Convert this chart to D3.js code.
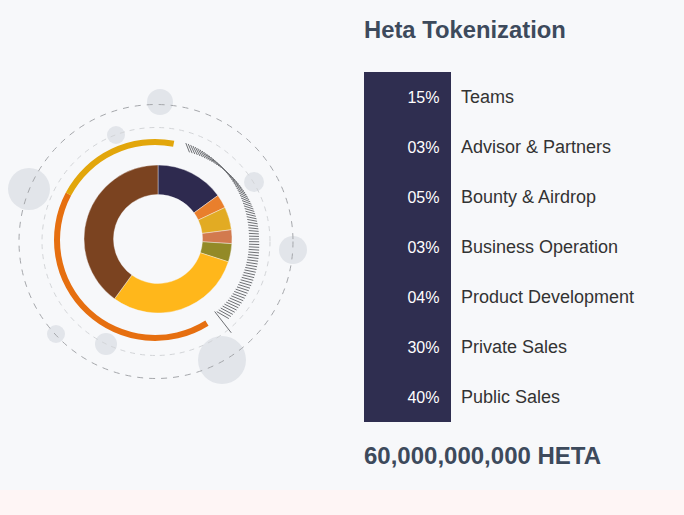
<!DOCTYPE html>
<html>
<head>
<meta charset="utf-8">
<script src="https://cdn.jsdelivr.net/npm/d3@7/dist/d3.min.js"></script>
<style>
  html, body { margin: 0; padding: 0; background: #f7f8fa; }
  svg { display: block; }
</style>
</head>
<body>
<svg id="chart" width="684" height="515"></svg>
<script>
const title = "Heta Tokenization";
const totalSupply = "60,000,000,000 HETA";
const categories = ["Teams", "Advisor & Partners", "Bounty & Airdrop", "Business Operation", "Product Development", "Private Sales", "Public Sales"];
const values = [15, 3, 5, 3, 4, 30, 40];
const colors = ["#2e2a4f", "#e97f2c", "#e2ab23", "#d27a4e", "#938a27", "#ffb71b", "#7b4320"];

const svg = d3.select("#chart");
const W = 684, H = 515;

// background
svg.append("rect").attr("width", W).attr("height", H).attr("fill", "#f7f8fa");
svg.append("rect").attr("x", 0).attr("y", 490).attr("width", W).attr("height", 25).attr("fill", "#fef5f5");

const cx = 158, cy = 239;
const deg = Math.PI / 180;

// decorative bubbles
const bubbles = [[160,102,13],[116,135,9],[29,189,21],[254,182,10],[293,250,14],[56,334,9],[106,344,11],[222,360,24]];
svg.append("g").selectAll("circle").data(bubbles).join("circle")
  .attr("cx", d => d[0]).attr("cy", d => d[1]).attr("r", d => d[2])
  .attr("fill", "#e2e5ea");

// dashed circles
svg.append("circle").attr("cx", 156).attr("cy", 241.5).attr("r", 137)
  .attr("fill", "none").attr("stroke", "#a5a7ab").attr("stroke-width", 1).attr("stroke-dasharray", "6,6");
svg.append("circle").attr("cx", 156).attr("cy", 241.5).attr("r", 114)
  .attr("fill", "none").attr("stroke", "#d3d5d8").attr("stroke-width", 1).attr("stroke-dasharray", "5,5");

// outer decorative arcs
const ring = d3.arc().innerRadius(95).outerRadius(101);
const ringG = svg.append("g").attr("transform", `translate(155,240)`);
ringG.append("path").attr("d", ring({startAngle: 148 * deg, endAngle: 298 * deg})).attr("fill", "#e66f10");
ringG.append("path").attr("d", ring({startAngle: -62 * deg, endAngle: 11 * deg})).attr("fill", "#e2a60b");

// ticks
const tickG = svg.append("g").attr("transform", `translate(${cx},${cy})`);
const tickAngles = d3.range(18, 141, 1.6);
tickG.selectAll("line").data(tickAngles).join("line")
  .each(function(a) {
    const t = a * deg;
    const rr = 96 + (a > 90 ? (a - 90) * 0.08 : 0);
    const px = rr * Math.sin(t), py = -rr * Math.cos(t);
    const dirDeg = a < 90 ? 90 + (90 - a) * 0.95 : 90 + (a - 90) * 0.6;
    const dr = dirDeg * deg;
    const dx = Math.sin(dr), dy = -Math.cos(dr);
    const len = a < 90 ? 5 : 5 + (a - 90) * 0.04;
    d3.select(this)
      .attr("x1", px - len * dx).attr("y1", py - len * dy)
      .attr("x2", px + len * dx).attr("y2", py + len * dy);
  })
  .attr("stroke", "#6e7074").attr("stroke-width", 1);
{
  const t = 142 * deg;
  tickG.append("line")
    .attr("x1", 92 * Math.sin(t)).attr("y1", -92 * Math.cos(t))
    .attr("x2", 119 * Math.sin(t)).attr("y2", -119 * Math.cos(t))
    .attr("stroke", "#6e7074").attr("stroke-width", 1);
}

// donut
const pie = d3.pie().sort(null).value(d => d);
const arc = d3.arc().innerRadius(44.5).outerRadius(74);
const donut = svg.append("g").attr("transform", `translate(${cx},${cy})`);
donut.selectAll("path").data(pie(values)).join("path")
  .attr("d", arc)
  .attr("fill", (d, i) => colors[i])
  .attr("stroke", "#f7f8fa").attr("stroke-width", 0.4);

// right panel
const font = "'Liberation Sans', Arial, Helvetica, sans-serif";
svg.append("text").attr("x", 364).attr("y", 37.5)
  .attr("font-family", font).attr("font-weight", "bold").attr("font-size", 23.8)
  .attr("fill", "#3d4a5c").text(title);

const y = d3.scaleBand().domain(categories).range([72, 422]);
svg.append("rect").attr("x", 364).attr("y", 72).attr("width", 87).attr("height", 350).attr("fill", "#2f2e50");

const fmt = d3.format("02d");
const rows = svg.append("g").selectAll("g").data(categories).join("g")
  .attr("transform", d => `translate(0,${y(d) + y.bandwidth() / 2})`);
rows.append("text").attr("x", 439.5).attr("y", 6)
  .attr("text-anchor", "end").attr("font-family", font).attr("font-size", 16)
  .attr("fill", "#ffffff").text((d, i) => fmt(values[i]) + "%");
rows.append("text").attr("x", 461).attr("y", 6)
  .attr("font-family", font).attr("font-size", 18)
  .attr("fill", "#333333").text(d => d);

svg.append("text").attr("x", 364).attr("y", 464)
  .attr("font-family", font).attr("font-weight", "bold").attr("font-size", 24)
  .attr("fill", "#3d4a5c").text(totalSupply);
</script>
</body>
</html>
